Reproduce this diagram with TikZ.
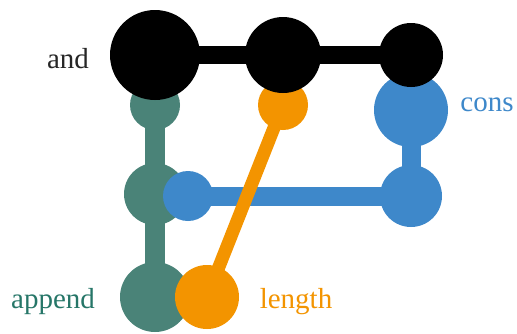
\documentclass[tikz,border=0pt]{standalone}
\usepackage{fontspec}
\setmainfont{Liberation Serif}
\newfontfamily\tagfont{Liberation Serif}
\definecolor{appendc}{RGB}{74,131,120}
\definecolor{appendt}{RGB}{38,118,104}
\definecolor{consc}{RGB}{62,136,202}
\definecolor{lengthc}{RGB}{243,148,0}
\definecolor{andc}{RGB}{0,0,0}
\begin{document}
\begin{tikzpicture}[x=1pt,y=-1pt,
  dot/.style={circle,inner sep=0pt,minimum size=#1},
  tag/.style={font=\tagfont\fontsize{29}{32}\selectfont,anchor=base},
  bar/.style={line width=#1}]
\useasboundingbox (0,0) rectangle (517,333);

% append
\begin{scope}[every node/.style={fill=appendc}]
  \node[dot=50pt] (ap1) at (155,105) {};
  \node[dot=62pt] (ap2) at (155,194) {};
  \node[dot=70pt] (ap3) at (155,297) {};
\end{scope}
\draw[bar=20pt,appendc] (ap1.center) -- (ap2.center) -- (ap3.center);

% cons
\begin{scope}[every node/.style={fill=consc}]
  \node[dot=74pt] (cs1) at (411,110) {};
  \node[dot=62pt] (cs2) at (411,196) {};
  \node[dot=50pt] (cs3) at (188,196) {};
\end{scope}
\draw[bar=19pt,consc] (cs1.center) -- (cs2.center) -- (cs3.center);

% length
\begin{scope}[every node/.style={fill=lengthc}]
  \node[dot=50pt] (ln1) at (283,105) {};
  \node[dot=64pt] (ln2) at (207,297) {};
\end{scope}
\draw[bar=13pt,lengthc] (ln1.center) -- (ln2.center);

% and
\begin{scope}[every node/.style={fill=andc}]
  \node[dot=90pt] (an1) at (155,55) {};
  \node[dot=76pt] (an2) at (283,55) {};
  \node[dot=64pt] (an3) at (411,55) {};
\end{scope}
\draw[bar=18pt,andc] (an1.center) -- (an2.center) -- (an3.center);

% labels
\node[tag,text=black!85] (tand) at (68,68) {and};
\node[tag,text=consc] (tcons) at (487,111) {cons};
\node[tag,text=appendt] (tappend) at (53,308) {append};
\node[tag,text=lengthc] (tlength) at (296,308) {length};
\end{tikzpicture}
\end{document}
